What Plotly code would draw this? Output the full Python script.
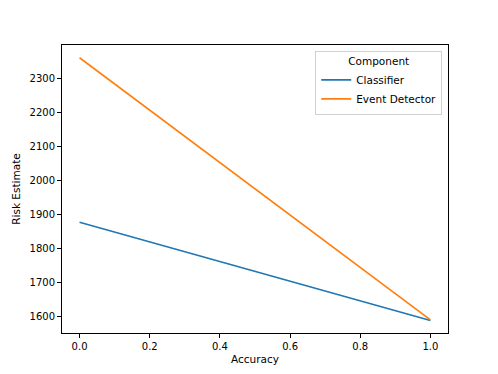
import plotly.graph_objects as go

accuracy = [0.0, 1.0]
classifier_risk = [1877, 1588]
event_detector_risk = [2361, 1590]

series = [
    ("Classifier", classifier_risk, "#1f77b4"),
    ("Event Detector", event_detector_risk, "#ff7f0e"),
]

fig = go.Figure()
for name, vals, col in series:
    fig.add_trace(go.Scatter(x=accuracy, y=vals, mode="lines", name=name,
                             line=dict(color=col, width=1.6)))

axis_style = dict(showline=True, mirror=True, linecolor="black", linewidth=1,
                  ticks="outside", ticklen=4, tickcolor="black", showgrid=False,
                  zeroline=False, tickfont=dict(size=10, color="black"))

fig.update_xaxes(range=[-0.05, 1.05], tickvals=[0, 0.2, 0.4, 0.6, 0.8, 1.0],
                 tickformat=".1f", title=dict(text="Accuracy", font=dict(size=10.5, color="black"), standoff=4),
                 **axis_style)
fig.update_yaxes(range=[1551.5, 2398.5], tickvals=[1600, 1700, 1800, 1900, 2000, 2100, 2200, 2300],
                 title=dict(text="Risk Estimate", font=dict(size=10.5, color="black"), standoff=6),
                 **axis_style)

fig.update_layout(
    width=498, height=374,
    margin=dict(l=62, r=50, t=45, b=41),
    plot_bgcolor="white", paper_bgcolor="white",
    font=dict(family="DejaVu Sans", size=10, color="black"),
    legend=dict(x=0.985, y=0.98, xanchor="right", yanchor="top",
                bordercolor="#d0d0d0", borderwidth=1, bgcolor="rgba(255,255,255,0.8)",
                title=dict(text="Component", side="top center", font=dict(size=10.5)),
                font=dict(size=10.5), tracegroupgap=0, itemwidth=30),
)

# drop the page's default body margin so the figure sits at 0,0
fig.write_html("out.html", config={"displayModeBar": False},
               post_script="document.body.style.margin='0';")
